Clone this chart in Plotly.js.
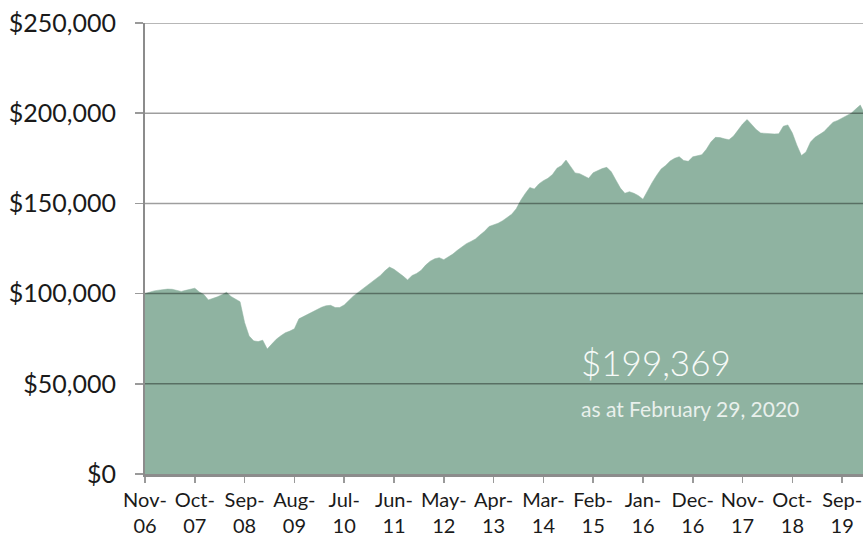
<!DOCTYPE html>
<html>
<head>
<meta charset="utf-8">
<script src="https://cdn.plot.ly/plotly-3.0.1.min.js"></script>
<style>html,body{margin:0;padding:0;background:#fff;overflow:hidden;}#chart{width:863px;height:537px;}</style>
</head>
<body>
<div id="chart"></div>
<script>
// Month index 0 = Nov-06 ... 159 = Feb-20
const tickPositions = [0, 11, 22, 33, 44, 55, 66, 77, 88, 99, 110, 121, 132, 143, 154];
const tickLabels = ["Nov-<br>06","Oct-<br>07","Sep-<br>08","Aug-<br>09","Jul-<br>10","Jun-<br>11","May-<br>12","Apr-<br>13","Mar-<br>14","Feb-<br>15","Jan-<br>16","Dec-<br>16","Nov-<br>17","Oct-<br>18","Sep-<br>19"];
const yTicks = [0, 50000, 100000, 150000, 200000, 250000];
const yTickLabels = ["$0", "$50,000", "$100,000", "$150,000", "$200,000", "$250,000"];

const portfolioValue = [
  100000,100900,101500,101900,102300,102500,102400,101800,101200,101800,
  102600,103000,100900,99500,96500,97200,98200,99400,100700,98400,
  96800,95500,84000,76500,73800,73400,74200,69300,72000,74700,
  76600,78300,79200,80500,86000,87300,88800,90100,91300,92400,
  93300,93500,92300,92300,93700,96400,98600,100500,102400,104300,
  106400,108300,110100,112600,114700,113500,111800,109700,107600,110000,
  111200,112900,115800,118000,119300,119900,118800,120200,121900,124000,
  126000,127700,128900,130300,132500,134500,137200,138000,139000,140400,
  142000,144000,147000,151700,155500,158800,158000,160800,162600,163900,
  166000,169500,171000,174000,170500,166900,166500,165300,163900,167000,
  168300,169300,170000,167500,163000,158500,155600,156500,155600,154300,
  152300,157000,161500,165500,169000,171000,173500,175000,175900,173800,
  173300,175800,176500,177000,180000,184000,186600,186500,185800,185300,
  187300,191000,194000,196500,193800,191000,189000,188700,188600,188500,
  188600,192800,193500,189000,182300,176500,178500,184000,186600,188000,
  189800,192500,195000,196000,197200,198500,200000,202300,204500,199369
];
const monthIndex = portfolioValue.map((v, i) => i);

const finalValueText = "$199,369";
const asAtText = "as at February 29, 2020";

const fillColor = "#8fb3a1";

const gridShapes = yTicks.slice(1).map(v => ({
  type: "line", xref: "paper", yref: "y", x0: 0, x1: 1, y0: v, y1: v,
  layer: "above", line: {color: "rgba(0,0,0,0.38)", width: 1.5}
}));

const trace = {
  x: monthIndex,
  y: portfolioValue,
  type: "scatter",
  mode: "lines",
  fill: "tozeroy",
  fillcolor: fillColor,
  line: {color: fillColor, width: 0.5},
  hoverinfo: "skip"
};

const layout = {
  width: 863,
  height: 537,
  margin: {l: 145, r: 0, t: 23, b: 63},
  paper_bgcolor: "#ffffff",
  plot_bgcolor: "#ffffff",
  showlegend: false,
  font: {family: "Lato, 'Open Sans', sans-serif", color: "#1a1a1a"},
  xaxis: {
    range: [0, 158.6],
    tickmode: "array",
    tickvals: tickPositions,
    ticktext: tickLabels,
    ticks: "outside",
    ticklen: 6,
    tickwidth: 1.5,
    tickcolor: "#9a9a9a",
    ticklabelstandoff: 0,
    ticklabeloverflow: "allow",
    showgrid: false,
    zeroline: false,
    showline: true,
    linecolor: "#8c8c8c",
    linewidth: 3,
    tickfont: {size: 20, color: "#1a1a1a"},
    fixedrange: true
  },
  yaxis: {
    range: [0, 250000],
    tickmode: "array",
    tickvals: yTicks,
    ticktext: yTickLabels,
    ticks: "outside",
    ticklen: 8,
    tickwidth: 1.5,
    tickcolor: "#9a9a9a",
    ticklabelstandoff: 14,
    showgrid: false,
    zeroline: false,
    showline: true,
    linecolor: "#8c8c8c",
    linewidth: 2,
    tickfont: {size: 25, color: "#1a1a1a"},
    fixedrange: true
  },
  shapes: gridShapes,
  annotations: [
    {xref: "paper", yref: "paper", x: 0.604, y: 0.248, xanchor: "left", yanchor: "middle",
     text: finalValueText, showarrow: false,
     font: {family: "Lato, sans-serif", size: 35, color: "#f7faf8", weight: 300}},
    {xref: "paper", yref: "paper", x: 0.604, y: 0.146, xanchor: "left", yanchor: "middle",
     text: asAtText, showarrow: false,
     font: {family: "Lato, sans-serif", size: 21, color: "#e9f0ec"}}
  ]
};

Plotly.newPlot("chart", [trace], layout, {displayModeBar: false, staticPlot: true});
</script>
</body>
</html>
